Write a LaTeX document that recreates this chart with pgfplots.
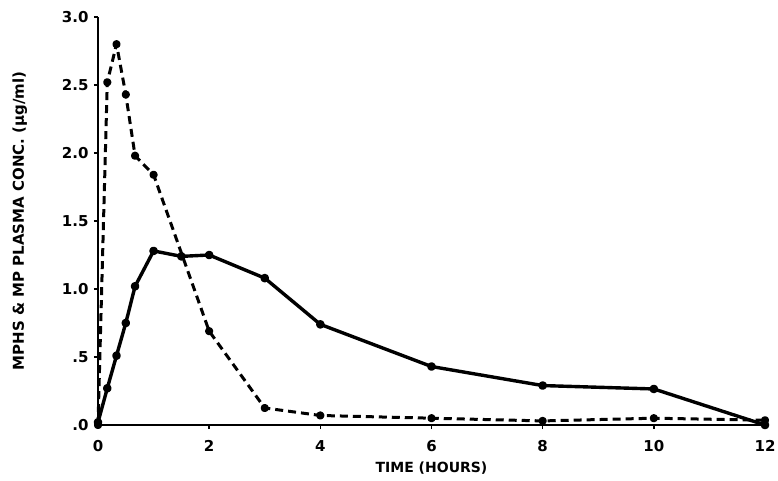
\documentclass[border=0pt]{standalone}
\usepackage{fontspec}
\setmainfont{DejaVu Sans}
\usepackage{pgfplots}
\pgfplotsset{compat=1.18}
\begin{document}
\begin{tikzpicture}
\begin{axis}[
  name=ax,
  at={(0,0)}, anchor=south west,
  scale only axis,
  width=667pt, height=408pt,
  xmin=0, xmax=12, ymin=0, ymax=3,
  clip=false,
  axis x line*=bottom, axis y line*=left,
  axis line style={line width=1.4pt},
  xtick={0,2,4,6,8,10,12},
  ytick={0,0.5,1,1.5,2,2.5,3},
  yticklabels={.0,.5,1.0,1.5,2.0,2.5,3.0},
  tick align=outside,
  major tick length=4pt,
  tick style={line width=1.4pt, black},
  /pgf/number format/assume math mode=true,
  ticklabel style={font=\fontsize{15}{17}\selectfont\bfseries},
  xticklabel style={yshift=-8pt},
  yticklabel style={xshift=-2pt},
  xlabel={TIME (HOURS)},
  ylabel={MPHS \& MP PLASMA CONC. (μg/ml)},
  xlabel style={font=\fontsize{14}{16}\selectfont\bfseries, yshift=-3pt},
  ylabel style={font=\fontsize{15}{17}\selectfont\bfseries, yshift=28pt},
]
\addplot[black, line width=3.4pt, mark=*, mark size=2.6pt, line join=round] coordinates {
  (0,0.02) (0.167,0.27) (0.333,0.51) (0.5,0.75) (0.667,1.02) (1,1.28)
  (1.5,1.24) (2,1.25) (3,1.08) (4,0.74) (6,0.43) (8,0.29) (10,0.265) (12,0.0)
};
\addplot[black, line width=3pt, dash pattern=on 8pt off 5pt, mark=*, mark size=2.6pt, mark options={solid}, line join=round] coordinates {
  (0,0.0) (0.167,2.52) (0.333,2.80) (0.5,2.43) (0.667,1.98) (1,1.84)
  (2,0.69) (3,0.125) (4,0.07) (6,0.05) (8,0.03) (10,0.05) (12,0.035)
};
\end{axis}
\pgfresetboundingbox
\path (ax.south west) ++(-98pt,-55pt) rectangle ++(778pt,480pt);
\end{tikzpicture}
\end{document}
